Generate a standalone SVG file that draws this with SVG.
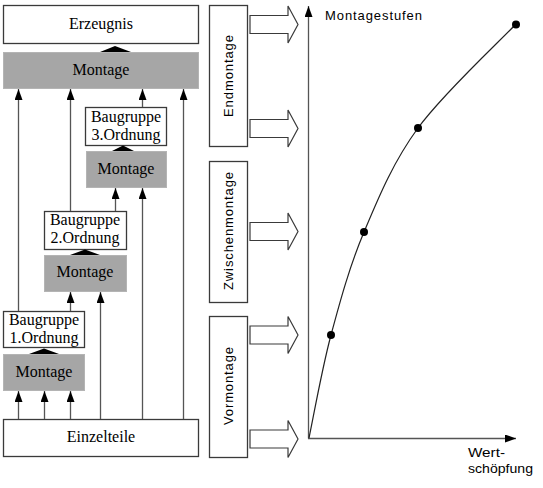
<svg xmlns="http://www.w3.org/2000/svg" width="543" height="488" viewBox="0 0 543 488">
<style>
.box{fill:#fff;stroke:#3a3a3a;stroke-width:1.3}
.gray{fill:#a6a6a6;stroke:#b4b4b4;stroke-width:1}
.serif{font-family:"Liberation Serif","Times New Roman",serif;font-size:16px;fill:#000;text-anchor:middle}
.sans{font-family:"Liberation Sans",Arial,sans-serif;font-size:13px;fill:#000}
.ln{stroke:#555;stroke-width:1.3;fill:none}
.ah{fill:#000}
.blk{fill:#fff;stroke:#3a3a3a;stroke-width:1.2}
</style>
<defs>
<marker id="arr" markerWidth="11" markerHeight="8" refX="11" refY="4" orient="auto" markerUnits="userSpaceOnUse" viewBox="0 0 11 8">
<path d="M0,0 L11,4 L0,8 Z" class="ah"/>
</marker>
<path id="blockArrow" d="M250,-9 H288 V-18.5 L298,0 L288,18.5 V9 H250 Z"/>
</defs>

<g id="erzeugnis"><rect class="box" x="3.5" y="5.5" width="195" height="38"/><text class="serif" x="101" y="29">Erzeugnis</text></g>
<g id="montage-top"><rect class="gray" x="3.5" y="52.5" width="195" height="36"/><text class="serif" x="101" y="75">Montage</text></g>
<g id="baugruppe3"><rect class="box" x="85.5" y="107.5" width="81" height="38"/><text class="serif" x="126" y="122">Baugruppe</text><text class="serif" x="126" y="140">3.Ordnung</text></g>
<g id="montage3"><rect class="gray" x="86.5" y="151.5" width="80" height="36"/><text class="serif" x="126" y="174">Montage</text></g>
<g id="baugruppe2"><rect class="box" x="44.5" y="211.5" width="82" height="38"/><text class="serif" x="85" y="225">Baugruppe</text><text class="serif" x="85" y="243">2.Ordnung</text></g>
<g id="montage2"><rect class="gray" x="44.5" y="255.5" width="82" height="36"/><text class="serif" x="85" y="277">Montage</text></g>
<g id="baugruppe1"><rect class="box" x="3.5" y="311.5" width="81" height="36"/><text class="serif" x="44" y="325">Baugruppe</text><text class="serif" x="44" y="343">1.Ordnung</text></g>
<g id="montage1"><rect class="gray" x="3.5" y="354.5" width="81" height="36"/><text class="serif" x="44" y="377">Montage</text></g>
<g id="einzelteile"><rect class="box" x="3.5" y="419.5" width="195" height="37"/><text class="serif" x="101" y="442">Einzelteile</text></g>

<g id="endmontage"><rect class="box" x="209.5" y="5.5" width="38" height="141"/><text class="sans" transform="translate(233,76) rotate(-90)" text-anchor="middle" textLength="82" lengthAdjust="spacing">Endmontage</text></g>
<g id="zwischenmontage"><rect class="box" x="209.5" y="161.5" width="38" height="141"/><text class="sans" transform="translate(233,231) rotate(-90)" text-anchor="middle" textLength="118" lengthAdjust="spacing">Zwischenmontage</text></g>
<g id="vormontage"><rect class="box" x="209.5" y="316.5" width="38" height="141"/><text class="sans" transform="translate(233,386) rotate(-90)" text-anchor="middle" textLength="78" lengthAdjust="spacing">Vormontage</text></g>

<g id="block-arrows">
<use href="#blockArrow" class="blk" transform="translate(0,24.5)"/>
<use href="#blockArrow" class="blk" transform="translate(0,128.5)"/>
<use href="#blockArrow" class="blk" transform="translate(0,231.5)"/>
<use href="#blockArrow" class="blk" transform="translate(0,335)"/>
<use href="#blockArrow" class="blk" transform="translate(0,439)"/>
</g>

<g id="connectors">
<line class="ln" x1="18.5" y1="419" x2="18.5" y2="391" marker-end="url(#arr)"/>
<line class="ln" x1="44.5" y1="419" x2="44.5" y2="391" marker-end="url(#arr)"/>
<line class="ln" x1="70.5" y1="419" x2="70.5" y2="391" marker-end="url(#arr)"/>
<line class="ln" x1="100.5" y1="419" x2="100.5" y2="292" marker-end="url(#arr)"/>
<line class="ln" x1="142.5" y1="419" x2="142.5" y2="188" marker-end="url(#arr)"/>
<line class="ln" x1="183.5" y1="419" x2="183.5" y2="89" marker-end="url(#arr)"/>
<line class="ln" x1="18.5" y1="311" x2="18.5" y2="89" marker-end="url(#arr)"/>
<line class="ln" x1="70.5" y1="311" x2="70.5" y2="292" marker-end="url(#arr)"/>
<line class="ln" x1="70.5" y1="211" x2="70.5" y2="89" marker-end="url(#arr)"/>
<line class="ln" x1="115.5" y1="211" x2="115.5" y2="188" marker-end="url(#arr)"/>
<line class="ln" x1="142.5" y1="107" x2="142.5" y2="89" marker-end="url(#arr)"/>
<polygon class="ah" points="100,52 115,46 131,52"/>
<polygon class="ah" points="112,151 123,145.5 134,151"/>
<polygon class="ah" points="70,255 85,249.5 100,255"/>
<polygon class="ah" points="29,354 44,348.5 59,354"/>
</g>

<g id="chart">
<line class="ln" x1="308.5" y1="438.5" x2="308.5" y2="6" marker-end="url(#arr)"/>
<line class="ln" x1="308" y1="438.5" x2="516" y2="438.5" marker-end="url(#arr)"/>
<path d="M309,438 C312.7,420.8 321.8,369.3 331,335 C340.2,300.7 349.5,266.5 364,232 C378.5,197.5 392.7,162.7 418,128 C443.3,93.3 499.7,41.3 516,24" fill="none" stroke="#222" stroke-width="1.2"/>
<circle cx="331" cy="335" r="4" fill="#000"/>
<circle cx="364" cy="232" r="4" fill="#000"/>
<circle cx="418" cy="128" r="4" fill="#000"/>
<circle cx="516" cy="24.5" r="4" fill="#000"/>
<text class="sans" x="325" y="20" font-size="14" textLength="97" lengthAdjust="spacing">Montagestufen</text>
<text class="sans" x="468" y="457" font-size="16" textLength="37" lengthAdjust="spacingAndGlyphs">Wert-</text>
<text class="sans" x="468" y="473" font-size="16" textLength="65" lengthAdjust="spacingAndGlyphs">schöpfung</text>
</g>
</svg>
